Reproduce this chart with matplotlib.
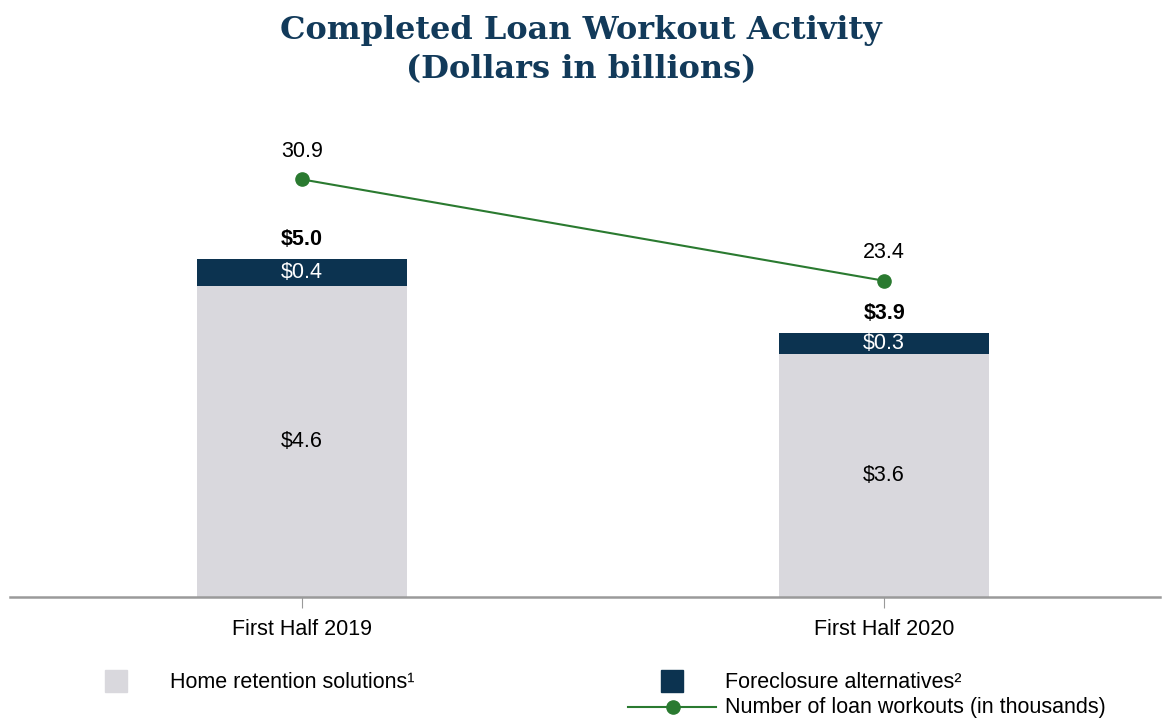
import matplotlib
matplotlib.use("Agg")
import matplotlib.pyplot as plt
from matplotlib.patches import Rectangle
from matplotlib.lines import Line2D

categories = ["First Half 2019", "First Half 2020"]
home_retention = [4.6, 3.6]
foreclosure_alt = [0.4, 0.3]
totals = [5.0, 3.9]
workouts = [30.9, 23.4]

navy = "#0c3350"
light = "#d9d8dd"
green = "#2a7a30"
title_color = "#123a5a"

plt.rcParams['font.family'] = ['Liberation Sans', 'DejaVu Sans']
FS = 15.5

W, H = 1162, 719
fig = plt.figure(figsize=(W / 100, H / 100), dpi=100)

def fx(px):
    return px / W

def fy(py):
    return 1 - py / H

ax = fig.add_axes([fx(10), fy(597), fx(1160) - fx(10), fy(124) - fy(597)])
x = list(range(len(categories)))
bw = 0.361
ax.bar(x, home_retention, width=bw, color=light, zorder=2)
ax.bar(x, foreclosure_alt, width=bw, bottom=home_retention, color=navy, zorder=2)
ax.set_xlim(-0.502, 1.474)
ax.set_ylim(0, 7)

for i in x:
    ax.text(i, home_retention[i] / 2, f"${home_retention[i]:.1f}", ha="center", va="center",
            fontsize=FS, color="black")
    ax.text(i, home_retention[i] + foreclosure_alt[i] / 2, f"${foreclosure_alt[i]:.1f}",
            ha="center", va="center", fontsize=FS, color="white")
    ax.annotate(f"${totals[i]:.1f}", (i, totals[i]), xytext=(0, 20), textcoords="offset pixels",
                ha="center", va="center", fontsize=FS, fontweight="bold", color="black")

for s in ["top", "right", "left"]:
    ax.spines[s].set_visible(False)
ax.spines["bottom"].set_color("#9a9a9a")
ax.spines["bottom"].set_linewidth(1.8)
ax.set_yticks([])
ax.set_xticks(x)
ax.set_xticklabels(categories, fontsize=FS)
ax.tick_params(axis="x", length=8, width=0.8, color="#9a9a9a", pad=8)

ax2 = ax.twinx()
ax2.set_ylim(0, 35)
ax2.plot(x, workouts, color=green, lw=1.5, marker="o", markersize=9.5, zorder=3)
for i in x:
    ax2.annotate(f"{workouts[i]:.1f}", (i, workouts[i]), xytext=(0, 28), textcoords="offset pixels",
                 ha="center", va="center", fontsize=FS, color="black")
ax2.set_yticks([])
for s in ax2.spines.values():
    s.set_visible(False)

fig.text(0.5, fy(30), "Completed Loan Workout Activity", ha="center", va="center",
         fontsize=23, fontweight="bold", color=title_color, family=["DejaVu Serif"])
fig.text(0.5, fy(70), "(Dollars in billions)", ha="center", va="center",
         fontsize=23, fontweight="bold", color=title_color, family=["DejaVu Serif"])

# legend
fig.add_artist(Rectangle((fx(105), fy(692)), fx(22), fy(670) - fy(692), transform=fig.transFigure,
                         color=light))
fig.text(fx(170), fy(683), "Home retention solutions¹", ha="left", va="center", fontsize=FS)
fig.add_artist(Rectangle((fx(661), fy(692)), fx(22), fy(670) - fy(692), transform=fig.transFigure,
                         color=navy))
fig.text(fx(725), fy(683), "Foreclosure alternatives²", ha="left", va="center", fontsize=FS)
fig.add_artist(Line2D([fx(628), fx(716)], [fy(707), fy(707)], transform=fig.transFigure,
                      color=green, lw=1.5))
fig.add_artist(Line2D([fx(673)], [fy(707)], transform=fig.transFigure, color=green,
                      marker="o", markersize=9.5))
fig.text(fx(725), fy(707), "Number of loan workouts (in thousands)", ha="left", va="center", fontsize=FS)

fig.savefig("out.png", dpi=100)
